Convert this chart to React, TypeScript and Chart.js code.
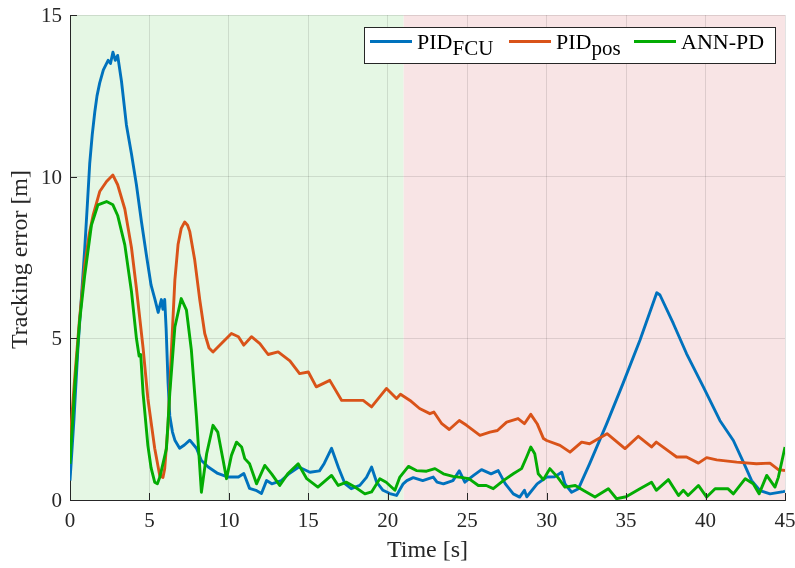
import React, { useEffect, useRef } from 'react';
import { Chart, registerables } from 'chart.js';

Chart.register(...registerables);

// ---------- data ----------
const fcuTime = [0, 0.25, 0.5, 0.75, 0.93, 1.1, 1.24, 1.4, 1.56, 1.7, 1.87, 2.1, 2.4, 2.55, 2.7, 2.85, 3.0, 3.24, 3.55, 3.87, 4.18, 4.5, 4.8, 5.1, 5.35, 5.55, 5.75, 5.85, 5.96, 6.05, 6.17, 6.28, 6.45, 6.6, 6.9, 7.2, 7.54, 7.96, 8.27, 8.7, 9.3, 9.95, 10.6, 10.94, 11.3, 11.7, 12.05, 12.37, 12.7, 13.3, 13.8, 14.4, 15.1, 15.7, 16.0, 16.46, 16.9, 17.3, 17.7, 18.24, 18.66, 18.98, 19.3, 19.7, 20.13, 20.55, 20.97, 21.2, 21.6, 22.2, 22.86, 23.1, 23.5, 24.1, 24.5, 24.85, 25.4, 25.9, 26.5, 26.95, 27.4, 27.9, 28.3, 28.6, 28.75, 29.4, 30.0, 30.5, 30.95, 31.15, 31.57, 32.0, 32.7, 33.78, 34.8, 35.87, 36.93, 37.13, 37.97, 38.8, 39.86, 40.9, 41.75, 42.38, 42.9, 43.43, 44.06, 44.9, 45];
const fcuError = [0.6, 2.5, 4.7, 6.5, 7.8, 9.2, 10.4, 11.3, 12.0, 12.5, 12.9, 13.3, 13.6, 13.5, 13.85, 13.6, 13.75, 12.95, 11.6, 10.7, 9.75, 8.6, 7.6, 6.65, 6.2, 5.8, 6.2, 5.9, 6.2, 5.3, 3.65, 2.6, 2.1, 1.85, 1.6, 1.7, 1.85, 1.6, 1.22, 1.02, 0.82, 0.71, 0.71, 0.82, 0.36, 0.3, 0.2, 0.6, 0.5, 0.6, 0.82, 1.02, 0.86, 0.9, 1.13, 1.6, 1.0, 0.51, 0.35, 0.45, 0.7, 1.02, 0.55, 0.3, 0.2, 0.14, 0.5, 0.6, 0.69, 0.6, 0.71, 0.55, 0.5, 0.6, 0.9, 0.55, 0.76, 0.94, 0.81, 0.91, 0.5, 0.19, 0.09, 0.3, 0.1, 0.5, 0.71, 0.72, 0.86, 0.5, 0.24, 0.35, 1.12, 2.36, 3.6, 4.94, 6.41, 6.34, 5.46, 4.53, 3.5, 2.46, 1.84, 1.17, 0.6, 0.29, 0.19, 0.26, 0.27];

const posTime = [0, 0.3, 0.6, 0.93, 1.2, 1.45, 1.87, 2.3, 2.7, 3.0, 3.45, 3.87, 4.18, 4.6, 4.9, 5.33, 5.65, 5.85, 5.96, 6.17, 6.38, 6.6, 6.8, 7.0, 7.22, 7.4, 7.54, 7.85, 8.17, 8.48, 8.75, 9.0, 9.53, 10.16, 10.6, 10.94, 11.42, 11.95, 12.47, 13.1, 13.84, 14.45, 15.0, 15.5, 16.35, 17.1, 18.45, 18.98, 19.92, 20.55, 20.8, 21.4, 22.0, 22.65, 22.9, 23.4, 23.87, 24.5, 24.96, 25.8, 26.43, 26.9, 27.48, 28.2, 28.6, 29.0, 29.4, 29.8, 30.0, 30.84, 31.47, 32.2, 32.7, 33.8, 34.93, 35.77, 36.6, 36.9, 37.76, 38.18, 38.8, 39.55, 40.07, 40.7, 41.96, 43.2, 44.05, 44.58, 45];
const posError = [1.8, 3.8, 5.6, 7.27, 8.2, 8.8, 9.54, 9.85, 10.05, 9.75, 9.0, 7.8, 6.55, 4.7, 3.14, 1.6, 0.75, 0.7, 0.97, 2.3, 4.6, 6.8, 7.9, 8.4, 8.6, 8.5, 8.3, 7.42, 6.18, 5.15, 4.7, 4.58, 4.84, 5.15, 5.05, 4.79, 5.05, 4.84, 4.5, 4.58, 4.3, 3.91, 3.96, 3.5, 3.7, 3.08, 3.08, 2.88, 3.45, 3.14, 3.27, 3.08, 2.83, 2.67, 2.72, 2.36, 2.18, 2.46, 2.31, 2.0, 2.1, 2.15, 2.41, 2.52, 2.36, 2.65, 2.36, 1.9, 1.84, 1.69, 1.48, 1.79, 1.74, 2.05, 1.59, 1.97, 1.64, 1.79, 1.48, 1.33, 1.33, 1.14, 1.31, 1.24, 1.17, 1.12, 1.14, 0.94, 0.91];

const annTime = [0, 0.3, 0.6, 0.93, 1.35, 1.76, 2.3, 2.7, 3.0, 3.45, 3.87, 4.18, 4.35, 4.45, 4.6, 4.9, 5.1, 5.33, 5.5, 5.65, 6.07, 6.28, 6.6, 7.0, 7.33, 7.64, 7.96, 8.27, 8.6, 9.0, 9.3, 9.64, 9.85, 10.16, 10.48, 10.8, 11.0, 11.3, 11.74, 12.26, 12.7, 13.2, 13.7, 14.36, 14.9, 15.6, 16.46, 16.88, 17.4, 17.93, 18.56, 18.98, 19.5, 19.9, 20.45, 20.76, 21.3, 21.8, 22.44, 22.97, 23.5, 24.1, 24.6, 25.1, 25.7, 26.2, 26.64, 27.27, 27.9, 28.42, 28.74, 29.0, 29.25, 29.47, 29.79, 30.2, 30.7, 31.15, 31.8, 32.3, 33.04, 33.88, 34.4, 35.0, 35.87, 36.6, 36.9, 37.66, 38.3, 38.6, 38.9, 39.55, 40.07, 40.6, 41.4, 41.75, 42.5, 43.0, 43.37, 43.85, 44.37, 44.58, 45];
const annError = [1.12, 3.5, 5.5, 6.96, 8.5, 9.13, 9.23, 9.13, 8.8, 7.89, 6.44, 5.0, 4.45, 4.5, 3.3, 1.69, 1.0, 0.55, 0.5, 0.7, 1.59, 3.3, 5.35, 6.23, 5.87, 4.63, 2.57, 0.24, 1.43, 2.31, 2.1, 1.22, 0.66, 1.38, 1.79, 1.64, 1.28, 1.12, 0.5, 1.07, 0.8, 0.45, 0.81, 1.12, 0.66, 0.4, 0.76, 0.45, 0.55, 0.4, 0.19, 0.25, 0.66, 0.55, 0.3, 0.71, 1.04, 0.91, 0.89, 0.97, 0.81, 0.73, 0.7, 0.66, 0.45, 0.45, 0.35, 0.6, 0.81, 0.97, 1.33, 1.64, 1.43, 0.81, 0.63, 0.97, 0.7, 0.4, 0.45, 0.3, 0.09, 0.35, 0.04, 0.1, 0.35, 0.55, 0.3, 0.63, 0.14, 0.3, 0.14, 0.45, 0.09, 0.35, 0.35, 0.19, 0.66, 0.5, 0.19, 0.76, 0.4, 0.7, 1.64];

const phaseBounds = [0, 21, 45];
const xTicks = [0, 5, 10, 15, 20, 25, 30, 35, 40, 45];
const yTicks = [0, 5, 10, 15];
const xTitle = 'Time [s]';
const yTitle = 'Tracking error [m]';
// legend entries: main text + subscript
const legendMain = ['PID', 'PID', 'ANN-PD'];
const legendSub = ['FCU', 'pos', ''];

// ---------- styles ----------
const COLORS = ['#0072BD', '#D95319', '#03AC03'];
const PHASE_COLORS = ['#e5f7e4', '#f8e4e5'];
const FONT = "'Liberation Serif', 'DejaVu Serif', serif";
const AXIS = '#262626';

const toXY = (t: number[], v: number[]) => t.map((x, i) => ({ x, y: v[i] }));

const decorPlugin = {
  id: 'decor',
  beforeDraw(chart: any) {
    const { ctx, chartArea, scales } = chart;
    const xs = scales.x;
    ctx.save();
    for (let i = 0; i < phaseBounds.length - 1; i++) {
      const a = xs.getPixelForValue(phaseBounds[i]);
      const b = xs.getPixelForValue(phaseBounds[i + 1]);
      ctx.fillStyle = PHASE_COLORS[i];
      ctx.fillRect(a, chartArea.top, b - a, chartArea.bottom - chartArea.top);
    }
    ctx.restore();
  },
  afterDraw(chart: any) {
    const { ctx, chartArea, scales } = chart;
    const xs = scales.x;
    const ys = scales.y;
    ctx.save();
    // inward ticks
    ctx.strokeStyle = AXIS;
    ctx.lineWidth = 1;
    ctx.beginPath();
    xTicks.forEach((t) => {
      const px = Math.round(xs.getPixelForValue(t)) + 0.5;
      ctx.moveTo(px, chartArea.bottom);
      ctx.lineTo(px, chartArea.bottom - 7);
    });
    yTicks.forEach((t) => {
      const py = Math.round(ys.getPixelForValue(t)) + 0.5;
      ctx.moveTo(chartArea.left, py);
      ctx.lineTo(chartArea.left + 7, py);
    });
    ctx.stroke();

    // tick labels
    ctx.fillStyle = AXIS;
    ctx.font = `21px ${FONT}`;
    ctx.textAlign = 'center';
    ctx.textBaseline = 'alphabetic';
    xTicks.forEach((t) => {
      ctx.fillText(String(t), xs.getPixelForValue(t), chartArea.bottom + 27);
    });
    ctx.textAlign = 'right';
    yTicks.forEach((t) => {
      ctx.fillText(String(t), chartArea.left - 8, ys.getPixelForValue(t) + 7);
    });

    // axis titles
    ctx.font = `24px ${FONT}`;
    ctx.textAlign = 'center';
    ctx.fillText(xTitle, (chartArea.left + chartArea.right) / 2, 557);
    ctx.save();
    ctx.translate(27, (chartArea.top + chartArea.bottom) / 2 + 2);
    ctx.rotate(-Math.PI / 2);
    ctx.fillText(yTitle, 0, 0);
    ctx.restore();

    // legend
    const boxL = 364, boxT = 27, boxW = 411, boxH = 36;
    ctx.fillStyle = '#ffffff';
    ctx.fillRect(boxL, boxT, boxW, boxH);
    ctx.strokeStyle = AXIS;
    ctx.lineWidth = 1;
    ctx.strokeRect(boxL + 0.5, boxT + 0.5, boxW, boxH);
    const entryX = [370, 509, 634];
    const lineY = 41.5;
    ctx.textAlign = 'left';
    for (let i = 0; i < legendMain.length; i++) {
      ctx.strokeStyle = COLORS[i];
      ctx.lineWidth = 2.8;
      ctx.beginPath();
      ctx.moveTo(entryX[i], lineY);
      ctx.lineTo(entryX[i] + 42, lineY);
      ctx.stroke();
      ctx.fillStyle = '#000';
      ctx.font = `22px ${FONT}`;
      const tx = entryX[i] + 47;
      ctx.fillText(legendMain[i], tx, 48.5);
      if (legendSub[i]) {
        const w = ctx.measureText(legendMain[i]).width;
        ctx.font = `21px ${FONT}`;
        ctx.fillText(legendSub[i], tx + w, 55);
      }
    }
    ctx.restore();
  },
};

export default function App() {
  const ref = useRef<HTMLCanvasElement | null>(null);
  useEffect(() => {
    if (!ref.current) return;
    const chart = new Chart(ref.current, {
      type: 'line',
      data: {
        datasets: [
          { label: 'PID_FCU', data: toXY(fcuTime, fcuError), borderColor: COLORS[0], order: 2 },
          { label: 'PID_pos', data: toXY(posTime, posError), borderColor: COLORS[1], order: 1 },
          { label: 'ANN-PD', data: toXY(annTime, annError), borderColor: COLORS[2], order: 0 },
        ].map((d) => ({ ...d, borderWidth: 2.9, pointRadius: 0, tension: 0, fill: false, borderJoinStyle: 'round' as const })),
      },
      options: {
        animation: false,
        responsive: false,
        devicePixelRatio: 1,
        layout: { padding: { top: 15, right: 10, left: 0, bottom: 0 } },
        plugins: { legend: { display: false }, tooltip: { enabled: false } },
        scales: {
          x: {
            type: 'linear',
            min: 0,
            max: 45,
            afterBuildTicks: (s: any) => { s.ticks = xTicks.map((v) => ({ value: v })); },
            afterFit: (s: any) => { s.height = 68; },
            ticks: { display: false },
            grid: { color: 'rgba(40,40,40,0.13)', drawTicks: false, lineWidth: 1 },
            border: { display: true, color: AXIS, width: 1 },
          },
          y: {
            type: 'linear',
            min: 0,
            max: 15,
            afterBuildTicks: (s: any) => { s.ticks = yTicks.map((v) => ({ value: v })); },
            afterFit: (s: any) => { s.width = 70; },
            ticks: { display: false },
            grid: { color: 'rgba(40,40,40,0.13)', drawTicks: false, lineWidth: 1 },
            border: { display: true, color: AXIS, width: 1 },
          },
        },
      },
      plugins: [decorPlugin],
    });
    return () => chart.destroy();
  }, []);
  return (
    <div style={{ position: 'absolute', left: 0, top: 0, width: 795, height: 568, background: '#fff' }}>
      <canvas ref={ref} width={795} height={568} style={{ display: 'block' }} />
    </div>
  );
}
